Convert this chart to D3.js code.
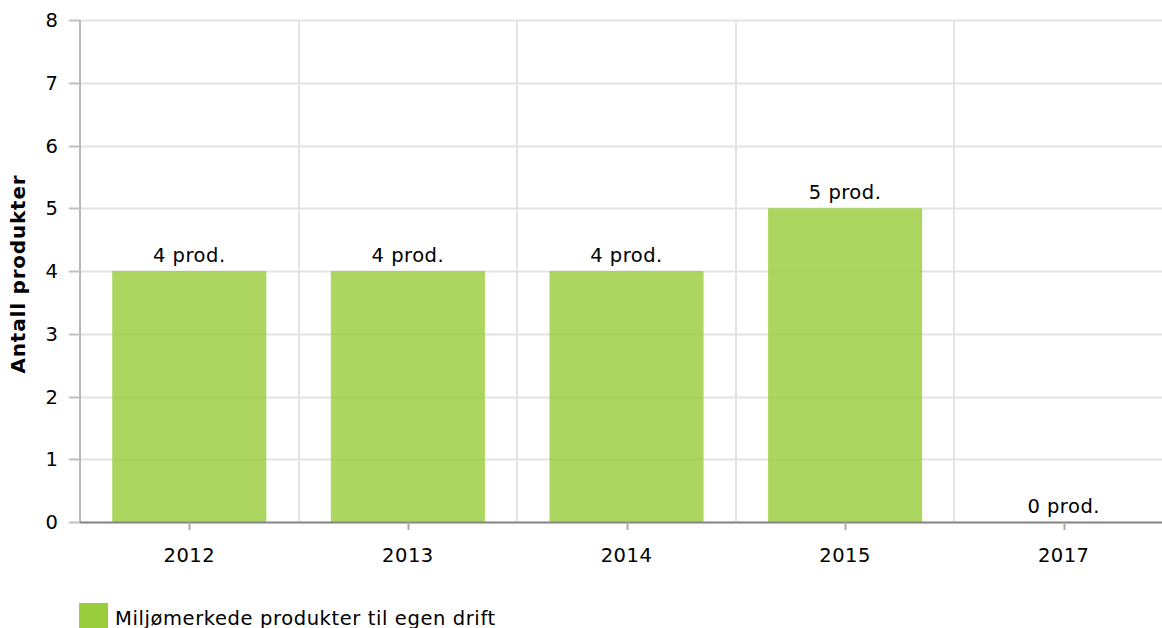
<!DOCTYPE html>
<html>
<head>
<meta charset="utf-8">
<script src="https://cdn.jsdelivr.net/npm/d3@7"></script>
<style>
  body { margin: 0; background: #fff; overflow: hidden; }
  text { font-family: "DejaVu Sans", Verdana, sans-serif; fill: #000; }
</style>
</head>
<body>
<script>
var w = 1162, h = 628;

// data
var years = ["2012", "2013", "2014", "2015", "2017"];
var counts = [4, 4, 4, 5, 0];
var yTicks = [0, 1, 2, 3, 4, 5, 6, 7, 8];
var seriesName = "Miljømerkede produkter til egen drift";

var plotL = 80, plotR = 1173, plotT = 20, plotB = 522;
var fs = "19.5px";

var xScale = d3.scaleBand()
  .domain(years)
  .range([plotL, plotR])
  .padding(0);

var yScale = d3.scaleLinear()
  .domain([0, 8])
  .range([plotB, plotT]);

var barW = xScale.bandwidth() * 0.705;

var svg = d3.select("body").append("svg")
  .attr("width", w)
  .attr("height", h);

// horizontal grid
svg.selectAll("line.hgrid")
  .data(yTicks)
  .enter().append("line")
  .attr("x1", plotL).attr("x2", w)
  .attr("y1", function(d) { return Math.round(yScale(d)) + 0.5; })
  .attr("y2", function(d) { return Math.round(yScale(d)) + 0.5; })
  .attr("stroke", "#e3e3e3")
  .attr("stroke-width", 2);

// vertical grid (band boundaries)
svg.selectAll("line.vgrid")
  .data(years.slice(1))
  .enter().append("line")
  .attr("x1", function(d) { return Math.round(xScale(d)); })
  .attr("x2", function(d) { return Math.round(xScale(d)); })
  .attr("y1", plotT).attr("y2", plotB)
  .attr("stroke", "#e3e3e3")
  .attr("stroke-width", 2);

// bars
svg.selectAll("rect.bar")
  .data(counts)
  .enter().append("rect")
  .attr("x", function(d, i) { return xScale(years[i]) + (xScale.bandwidth() - barW) / 2; })
  .attr("y", function(d) { return yScale(d); })
  .attr("width", barW)
  .attr("height", function(d) { return plotB - yScale(d); })
  .attr("fill", "#9acd3c")
  .attr("fill-opacity", 0.82);

// value labels
svg.selectAll("text.val")
  .data(counts)
  .enter().append("text")
  .text(function(d) { return d + " prod."; })
  .attr("text-anchor", "middle")
  .attr("x", function(d, i) { return xScale(years[i]) + xScale.bandwidth() / 2; })
  .attr("y", function(d) { return yScale(d) - 9; })
  .attr("font-size", fs)
  .attr("letter-spacing", "0.5px");

// y axis line + ticks
svg.append("line")
  .attr("x1", plotL).attr("x2", plotL)
  .attr("y1", plotT).attr("y2", plotB)
  .attr("stroke", "#b8b8b8").attr("stroke-width", 2);

svg.selectAll("line.ytick")
  .data(yTicks)
  .enter().append("line")
  .attr("x1", 69).attr("x2", plotL)
  .attr("y1", function(d) { return Math.round(yScale(d)) + 0.5; })
  .attr("y2", function(d) { return Math.round(yScale(d)) + 0.5; })
  .attr("stroke", "#c0c0c0").attr("stroke-width", 2);

svg.selectAll("text.ylab")
  .data(yTicks)
  .enter().append("text")
  .text(function(d) { return d; })
  .attr("text-anchor", "end")
  .attr("x", 58)
  .attr("y", function(d) { return yScale(d) + 7; })
  .attr("font-size", fs);

// x axis line + ticks
svg.append("line")
  .attr("x1", plotL).attr("x2", w)
  .attr("y1", plotB + 0.5).attr("y2", plotB + 0.5)
  .attr("stroke", "#888").attr("stroke-width", 2);

svg.selectAll("line.xtick")
  .data(years)
  .enter().append("line")
  .attr("x1", function(d) { return Math.round(xScale(d) + xScale.bandwidth() / 2) + 0.5; })
  .attr("x2", function(d) { return Math.round(xScale(d) + xScale.bandwidth() / 2) + 0.5; })
  .attr("y1", plotB).attr("y2", plotB + 8)
  .attr("stroke", "#aaa").attr("stroke-width", 2);

svg.selectAll("text.xlab")
  .data(years)
  .enter().append("text")
  .text(function(d) { return d; })
  .attr("text-anchor", "middle")
  .attr("x", function(d) { return xScale(d) + xScale.bandwidth() / 2; })
  .attr("y", 562)
  .attr("font-size", fs)
  .attr("letter-spacing", "0.5px");

// y axis title
svg.append("text")
  .text("Antall produkter")
  .attr("transform", "translate(25," + ((plotT + plotB) / 2 + 3) + ") rotate(-90)")
  .attr("text-anchor", "middle")
  .attr("font-weight", "bold")
  .attr("font-size", "20px")
  .attr("letter-spacing", "0.8px");

// legend
svg.append("rect")
  .attr("x", 79).attr("y", 603)
  .attr("width", 29).attr("height", 30)
  .attr("fill", "#9acd3c");

svg.append("text")
  .text(seriesName)
  .attr("x", 115).attr("y", 625)
  .attr("font-size", fs)
  .attr("letter-spacing", "0.6px");
</script>
</body>
</html>
